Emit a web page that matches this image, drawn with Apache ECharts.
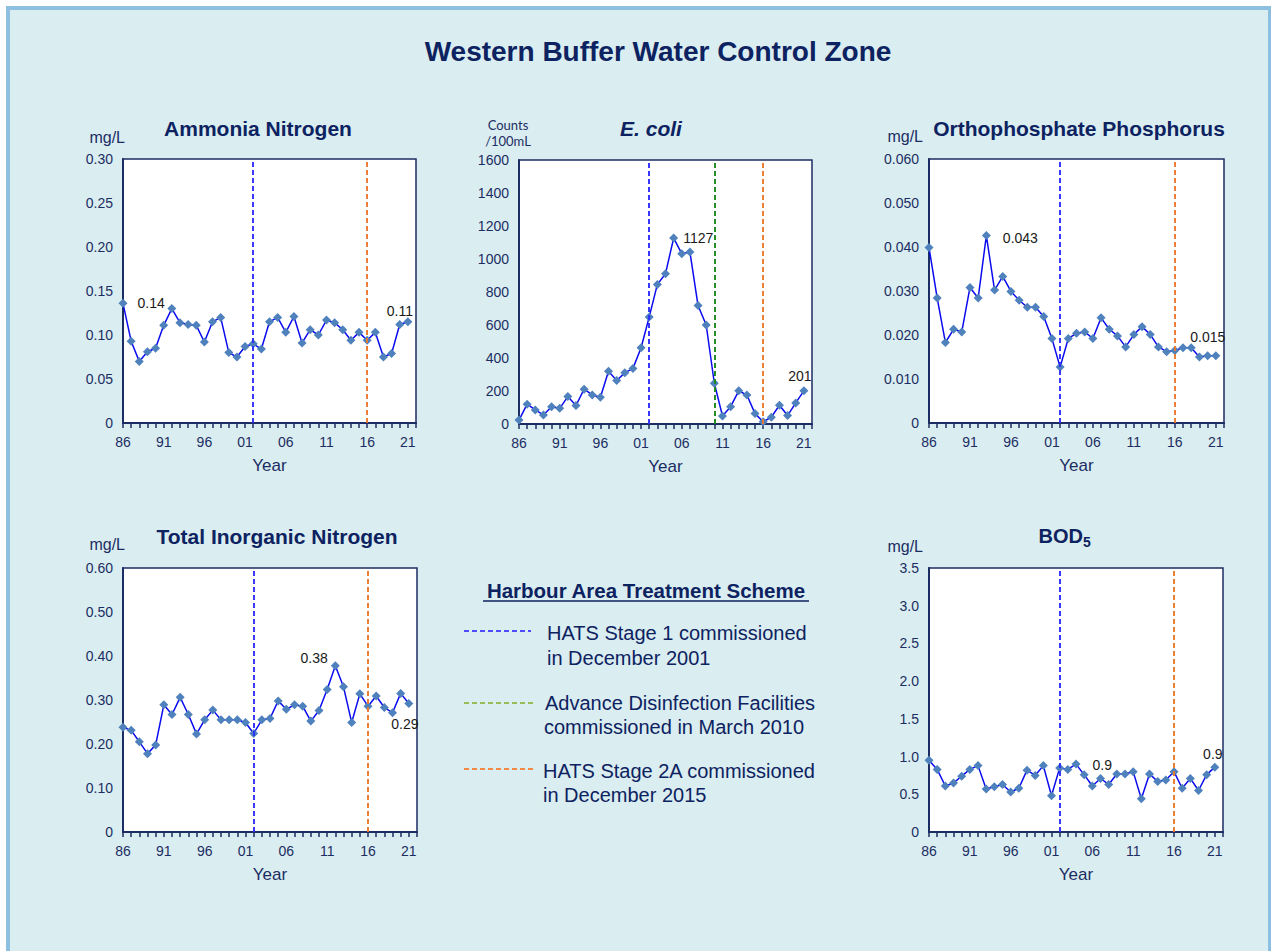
<!DOCTYPE html>
<html><head><meta charset="utf-8">
<script src="https://cdn.jsdelivr.net/npm/echarts@6/dist/echarts.min.js"></script>
<style>
html,body{margin:0;padding:0;background:#ffffff;overflow:hidden;width:1271px;height:951px;}
#frame{position:absolute;left:6px;top:6px;width:1258px;height:960px;border:4px solid #8dbfe1;background:#daedf0;}
#c{position:absolute;left:0;top:0;width:1271px;height:951px;}
</style>
</head><body><div id="frame"></div><div id="c"></div>
<script>
// ---------- data ----------
const years = [1986,1987,1988,1989,1990,1991,1992,1993,1994,1995,1996,1997,1998,1999,2000,2001,2002,2003,2004,2005,2006,2007,2008,2009,2010,2011,2012,2013,2014,2015,2016,2017,2018,2019,2020,2021];
const xLabelYears = [1986,1991,1996,2001,2006,2011,2016,2021];
const xTickLabels = ['86','91','96','01','06','11','16','21'];

const ammonia = [0.136,0.093,0.070,0.081,0.085,0.111,0.130,0.114,0.112,0.111,0.092,0.115,0.120,0.080,0.075,0.087,0.090,0.084,0.115,0.120,0.103,0.121,0.091,0.106,0.100,0.117,0.114,0.106,0.094,0.103,0.094,0.103,0.075,0.079,0.112,0.115];
const ecoli = [24,120,85,55,105,95,166,112,211,176,162,320,264,310,337,462,649,846,911,1127,1032,1043,718,600,247,49,105,201,176,63,14,41,114,51,128,201];
const ortho = [0.0399,0.0284,0.0183,0.0213,0.0207,0.0308,0.0284,0.0426,0.0302,0.0333,0.0299,0.0279,0.0263,0.0263,0.0242,0.0192,0.0127,0.0192,0.0204,0.0207,0.0192,0.0239,0.0213,0.0198,0.0173,0.0201,0.0219,0.0201,0.0173,0.0162,0.0165,0.0171,0.0171,0.0150,0.0153,0.0153];
const tin = [0.238,0.231,0.205,0.178,0.198,0.289,0.267,0.306,0.267,0.223,0.255,0.277,0.255,0.255,0.255,0.249,0.224,0.255,0.258,0.298,0.279,0.289,0.286,0.252,0.276,0.324,0.378,0.330,0.249,0.314,0.286,0.309,0.283,0.271,0.315,0.292];
const bod = [0.95,0.83,0.61,0.65,0.74,0.83,0.88,0.57,0.60,0.63,0.53,0.58,0.82,0.75,0.88,0.48,0.85,0.83,0.90,0.76,0.61,0.71,0.63,0.77,0.77,0.80,0.44,0.77,0.67,0.69,0.80,0.58,0.71,0.55,0.76,0.86];

const ammoniaLabels = {1986:'0.14', 2021:'0.11'};
const ecoliLabels = {2005:'1127', 2021:'201'};
const orthoLabels = {1993:'0.043', 2021:'0.015'};
const tinLabels = {2012:'0.38', 2021:'0.29'};
const bodLabels = {2004:'0.9', 2021:'0.9'};

const hatsStage1Year = 2002;   // HATS Stage 1 (Dec 2001)
const adfYear = 2010;          // ADF (Mar 2010)
const hatsStage2AYear = 2016;  // HATS Stage 2A (Dec 2015)

const chartTitles = ['Ammonia Nitrogen','E. coli','Orthophosphate Phosphorus','Total Inorganic Nitrogen','BOD'];
const legendTitle = 'Harbour Area Treatment Scheme';
const legendLines = [
  ['HATS Stage 1 commissioned','in December 2001'],
  ['Advance Disinfection Facilities','commissioned in March 2010'],
  ['HATS Stage 2A commissioned','in December 2015']
];

// ---------- styles ----------
const NAVY = '#1c2d63';
const TITLE = '#0d2260';
const FONT = '"Liberation Sans", Arial, sans-serif';
const BLUE_DASH = '#2e2eff';
const GREEN_DASH = '#1a8a1a';
const ORANGE_DASH = '#ea7a2c';

const grids = [
  {left:123, top:159, width:293, height:264},
  {left:519, top:160, width:293, height:264},
  {left:929, top:159, width:295, height:264},
  {left:123, top:568, width:294, height:264},
  {left:929, top:568, width:294, height:264}
];

const yConf = [
  {max:0.30, interval:0.05, dec:2},
  {max:1600, interval:200, dec:0},
  {max:0.060, interval:0.010, dec:3},
  {max:0.60, interval:0.10, dec:2},
  {max:3.5, interval:0.5, dec:1}
];

// label placements (styling only)
const labelPlace = [
  {1986:{position:'right', distance:10, offset:[0,0]}, 2021:{position:'top', distance:1, offset:[-8,2]}},
  {2005:{position:'right', distance:5, offset:[0,0]}, 2021:{position:'top', distance:3, offset:[-4,0]}},
  {1993:{position:'right', distance:12, offset:[0,2]}, 2021:{position:'top', distance:7, offset:[-8,0]}},
  {2012:{position:'left', distance:3, offset:[0,-8]}, 2021:{position:'bottom', distance:9, offset:[-4,0]}},
  {2004:{position:'right', distance:12, offset:[0,1]}, 2021:{position:'top', distance:2, offset:[-2,0]}}
];

function buildData(vals, labels, place) {
  return years.map((y, i) => {
    const d = {value:[y, vals[i]]};
    if (labels[y] !== undefined) {
      d.label = Object.assign({show:true, formatter:labels[y], color:'#1a1a1a', fontSize:14, fontFamily:FONT}, place[y]);
    }
    return d;
  });
}

function markLines(list) {
  return {
    silent:true, symbol:'none', animation:false,
    label:{show:false},
    data: list.map(([x,c]) => ({xAxis:x, lineStyle:{color:c, type:[5,3], width:1.9}}))
  };
}

const seriesVals = [ammonia, ecoli, ortho, tin, bod];
const seriesLabels = [ammoniaLabels, ecoliLabels, orthoLabels, tinLabels, bodLabels];
const seriesMarks = [
  [[hatsStage1Year,BLUE_DASH],[hatsStage2AYear,ORANGE_DASH]],
  [[hatsStage1Year,BLUE_DASH],[adfYear,GREEN_DASH],[hatsStage2AYear,ORANGE_DASH]],
  [[hatsStage1Year,BLUE_DASH],[hatsStage2AYear,ORANGE_DASH]],
  [[hatsStage1Year,BLUE_DASH],[hatsStage2AYear,ORANGE_DASH]],
  [[hatsStage1Year,BLUE_DASH],[hatsStage2AYear,ORANGE_DASH]]
];

const option = {
  animation:false,
  textStyle:{fontFamily:FONT},
  grid: grids.map(g => Object.assign({show:true, backgroundColor:'#ffffff', borderColor:NAVY, borderWidth:1.5, containLabel:false, outerBoundsMode:'none'}, g)),
  xAxis: grids.map((g, i) => ({
    type:'value', gridIndex:i, min:1986, max:2022, interval:1,
    axisLine:{show:true, onZero:false, lineStyle:{color:NAVY, width:2}},
    axisTick:{show:true, length:5, lineStyle:{color:NAVY, width:1.5}},
    splitLine:{show:false},
    axisLabel:{margin:12, fontSize:14, color:NAVY, fontFamily:FONT,
      formatter:v => { const k = xLabelYears.indexOf(v); return k >= 0 ? xTickLabels[k] : ''; }},
    name:'Year', nameLocation:'middle', nameGap:34,
    nameTextStyle:{fontSize:17, color:NAVY, fontFamily:FONT}
  })),
  yAxis: yConf.map((c, i) => ({
    type:'value', gridIndex:i, min:0, max:c.max, interval:c.interval,
    axisLine:{show:true, lineStyle:{color:NAVY, width:2}},
    axisTick:{show:false},
    splitLine:{show:false},
    axisLabel:{margin:10, fontSize:14, color:NAVY, fontFamily:FONT,
      formatter:v => v === 0 ? '0' : v.toFixed(c.dec)}
  })),
  series: seriesVals.map((vals, i) => ({
    type:'line', xAxisIndex:i, yAxisIndex:i,
    data: buildData(vals, seriesLabels[i], labelPlace[i]),
    symbol:'diamond', symbolSize:9,
    itemStyle:{color:'#4f81bd'},
    lineStyle:{color:'#0a0aee', width:1.5},
    label:{show:false},
    markLine: markLines(seriesMarks[i]),
    z:3
  })),
  graphic: [
    {type:'text', x:658, y:51, style:{text:'Western Buffer Water Control Zone', font:'bold 28px '+FONT, fill:TITLE, align:'center', verticalAlign:'middle', textAlign:'center', textVerticalAlign:'middle'}},
    {type:'text', x:258, y:128, style:{text:chartTitles[0], font:'bold 21px '+FONT, fill:TITLE, align:'center', verticalAlign:'middle', textAlign:'center', textVerticalAlign:'middle'}},
    {type:'text', x:651, y:128, style:{text:chartTitles[1], font:'italic bold 21px '+FONT, fill:TITLE, align:'center', verticalAlign:'middle', textAlign:'center', textVerticalAlign:'middle'}},
    {type:'text', x:1079, y:128, style:{text:chartTitles[2], font:'bold 21px '+FONT, fill:TITLE, align:'center', verticalAlign:'middle', textAlign:'center', textVerticalAlign:'middle'}},
    {type:'text', x:277, y:536, style:{text:chartTitles[3], font:'bold 21px '+FONT, fill:TITLE, align:'center', verticalAlign:'middle', textAlign:'center', textVerticalAlign:'middle'}},
    {type:'text', x:1083, y:536, style:{text:chartTitles[4], font:'bold 20px '+FONT, fill:TITLE, align:'right', verticalAlign:'middle', textAlign:'right', textVerticalAlign:'middle'}},
    {type:'text', x:1083, y:542, style:{text:'5', font:'bold 14px '+FONT, fill:TITLE, align:'left', verticalAlign:'middle', textAlign:'left', textVerticalAlign:'middle'}},
    // units
    {type:'text', x:125, y:137, style:{text:'mg/L', font:'16px '+FONT, fill:NAVY, align:'right', verticalAlign:'middle', textAlign:'right', textVerticalAlign:'middle'}},
    {type:'text', x:923, y:136, style:{text:'mg/L', font:'16px '+FONT, fill:NAVY, align:'right', verticalAlign:'middle', textAlign:'right', textVerticalAlign:'middle'}},
    {type:'text', x:125, y:544, style:{text:'mg/L', font:'16px '+FONT, fill:NAVY, align:'right', verticalAlign:'middle', textAlign:'right', textVerticalAlign:'middle'}},
    {type:'text', x:923, y:546, style:{text:'mg/L', font:'16px '+FONT, fill:NAVY, align:'right', verticalAlign:'middle', textAlign:'right', textVerticalAlign:'middle'}},
    {type:'text', x:508, y:125, style:{text:'Counts', font:'13px Lato, "Open Sans", sans-serif', fill:NAVY, align:'center', verticalAlign:'middle', textAlign:'center', textVerticalAlign:'middle'}},
    {type:'text', x:508, y:141, style:{text:'/100mL', font:'13px Lato, "Open Sans", sans-serif', fill:NAVY, align:'center', verticalAlign:'middle', textAlign:'center', textVerticalAlign:'middle'}},
    // legend
    {type:'text', x:646, y:590, style:{text:legendTitle, font:'bold 20.5px '+FONT, fill:TITLE, align:'center', verticalAlign:'middle', textAlign:'center', textVerticalAlign:'middle'}},
    {type:'line', shape:{x1:483, y1:601, x2:809, y2:601}, style:{stroke:TITLE, lineWidth:1.3}},
    {type:'line', shape:{x1:464, y1:631, x2:531, y2:631}, style:{stroke:'#4d4dff', lineWidth:2, lineDash:[5,3]}},
    {type:'line', shape:{x1:464, y1:703, x2:535, y2:703}, style:{stroke:'#9bbb59', lineWidth:2, lineDash:[5,3]}},
    {type:'line', shape:{x1:464, y1:769, x2:535, y2:769}, style:{stroke:'#f08a45', lineWidth:2, lineDash:[5,3]}},
    {type:'text', x:547, y:633, style:{text:legendLines[0][0], font:'20px '+FONT, fill:TITLE, align:'left', verticalAlign:'middle', textAlign:'left', textVerticalAlign:'middle'}},
    {type:'text', x:547, y:658, style:{text:legendLines[0][1], font:'20px '+FONT, fill:TITLE, align:'left', verticalAlign:'middle', textAlign:'left', textVerticalAlign:'middle'}},
    {type:'text', x:545, y:703, style:{text:legendLines[1][0], font:'20px '+FONT, fill:TITLE, align:'left', verticalAlign:'middle', textAlign:'left', textVerticalAlign:'middle'}},
    {type:'text', x:544, y:727, style:{text:legendLines[1][1], font:'20px '+FONT, fill:TITLE, align:'left', verticalAlign:'middle', textAlign:'left', textVerticalAlign:'middle'}},
    {type:'text', x:543, y:771, style:{text:legendLines[2][0], font:'20px '+FONT, fill:TITLE, align:'left', verticalAlign:'middle', textAlign:'left', textVerticalAlign:'middle'}},
    {type:'text', x:543, y:795, style:{text:legendLines[2][1], font:'20px '+FONT, fill:TITLE, align:'left', verticalAlign:'middle', textAlign:'left', textVerticalAlign:'middle'}}
  ]
};

const chart = echarts.init(document.getElementById('c'), null, {renderer:'svg', width:1271, height:951});
chart.setOption(option);
</script>
</body></html>
